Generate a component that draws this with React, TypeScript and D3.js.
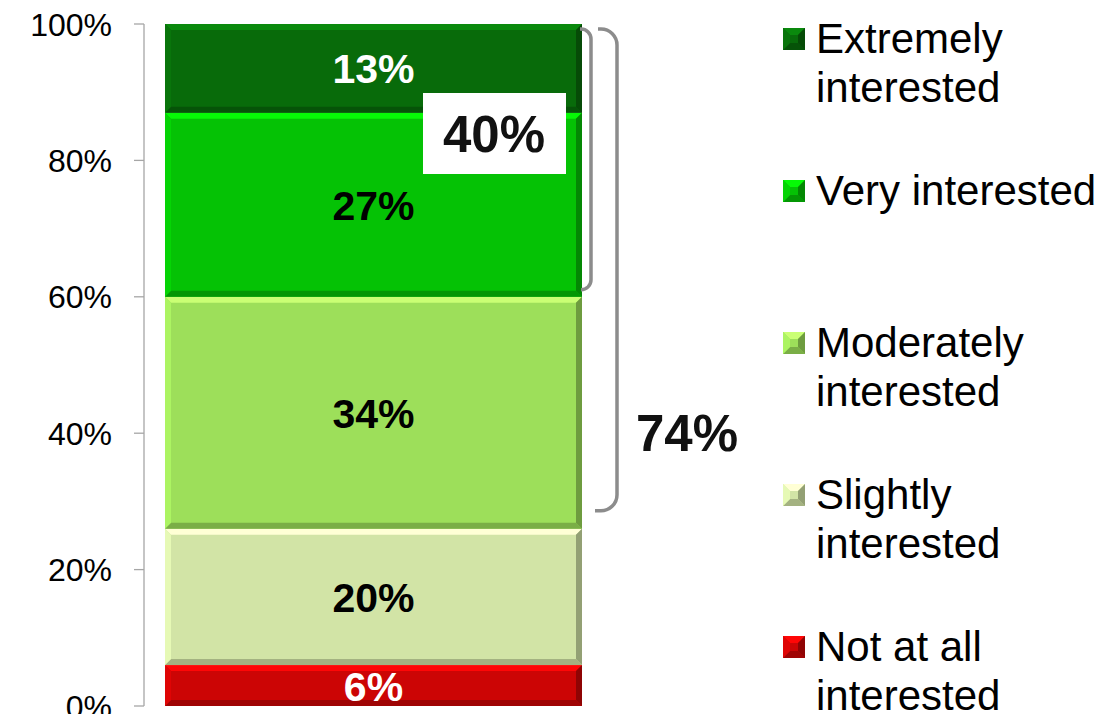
import React from "react";
import * as d3 from "d3";

const categories = ["Not at all interested", "Slightly interested", "Moderately interested", "Very interested", "Extremely interested"];
const values = [0.06, 0.20, 0.34, 0.27, 0.13];
const valueLabels = ["6%", "20%", "34%", "27%", "13%"];
const colors = ["#cc0505", "#d2e4a6", "#9ddf5a", "#05c205", "#086b0a"];
const labelColors = ["#ffffff", "#000000", "#000000", "#000000", "#ffffff"];
const tickValues = [0, 0.2, 0.4, 0.6, 0.8, 1.0];
const tickLabels = ["0%", "20%", "40%", "60%", "80%", "100%"];
const legendOrder = [4, 3, 2, 1, 0];
const legendLines = [["Not at all", "interested"], ["Slightly", "interested"], ["Moderately", "interested"], ["Very interested"], ["Extremely", "interested"]];
const brackets = [
  { from: 1.0, to: 0.6, label: "40%" },
  { from: 1.0, to: 0.26, label: "74%" },
];

const W = 1119, H = 714;
const FONT = "'Liberation Sans', Arial, sans-serif";

function Bevel({ x0, y0, x1, y1, color, b }: { x0: number; y0: number; x1: number; y1: number; color: string; b: number }) {
  const c = d3.color(color)!;
  const pts = (a: number[][]) => a.map((p) => p.join(",")).join(" ");
  return (
    <g>
      <rect x={x0} y={y0} width={x1 - x0} height={y1 - y0} fill={color} />
      <polygon points={pts([[x0, y0], [x1, y0], [x1 - b, y0 + b], [x0 + b, y0 + b]])} fill={c.brighter(0.7).formatHex()} />
      <polygon points={pts([[x0, y1], [x1, y1], [x1 - b, y1 - b], [x0 + b, y1 - b]])} fill={c.darker(0.7).formatHex()} />
      <polygon points={pts([[x0, y0], [x0 + b, y0 + b], [x0 + b, y1 - b], [x0, y1]])} fill={c.brighter(0.25).formatHex()} />
      <polygon points={pts([[x1, y0], [x1 - b, y0 + b], [x1 - b, y1 - b], [x1, y1]])} fill={c.darker(1.0).formatHex()} />
    </g>
  );
}

export default function App() {
  const y = d3.scaleLinear().domain([0, 1]).range([706, 24]);
  const x = d3.scaleBand().domain(["all"]).range([165, 582]).padding(0);
  const row: any = { key: "all" };
  categories.forEach((c, i) => (row[c] = values[i]));
  const series = d3.stack().keys(categories)([row]);
  const bx0 = x("all")!;
  const bx1 = bx0 + x.bandwidth();

  const bracketPath = (top: number, bot: number, xl: number, xv: number, r: number, xlb: number) => {
    const p = d3.path();
    p.moveTo(xl, top);
    p.lineTo(xv - r, top);
    p.arcTo(xv, top, xv, top + r, r);
    p.lineTo(xv, bot - r);
    p.arcTo(xv, bot, xv - r, bot, r);
    p.lineTo(xlb, bot);
    return p.toString();
  };

  const b0 = brackets[0];
  const b1 = brackets[1];

  return (
    <svg width={W} height={H} style={{ position: "absolute", left: 0, top: 0 }} fontFamily={FONT}>
      <rect width={W} height={H} fill="#fff" />
      {/* axis */}
      <line x1={144} x2={144} y1={y(0)} y2={y(1)} stroke="#a6a6a6" strokeWidth={1.3} />
      {tickValues.map((t, i) => (
        <g key={i}>
          <line x1={134} x2={144} y1={y(t)} y2={y(t)} stroke="#a6a6a6" strokeWidth={1.3} />
          <text x={112} y={y(t) + 11.5} textAnchor="end" fontSize={32} fill="#000">{tickLabels[i]}</text>
        </g>
      ))}
      {/* bars */}
      {series.map((s, i) => {
        const d = s[0];
        const y0 = y(d[1]);
        const y1 = y(d[0]);
        return (
          <g key={i}>
            <Bevel x0={bx0} y0={y0} x1={bx1} y1={y1} color={colors[i]} b={6} />
            <text x={(bx0 + bx1) / 2} y={(y0 + y1) / 2 + 15} textAnchor="middle" fontSize={41} fontWeight="bold" fill={labelColors[i]}>{valueLabels[i]}</text>
          </g>
        );
      })}
      {/* brackets */}
      <path d={bracketPath(y(b0.from) + 5, y(b0.to) - 7, 580, 591, 10, 581)} fill="none" stroke="#8c8c8c" strokeWidth={3.5} />
      <path d={bracketPath(y(b1.from) + 5, y(b1.to) - 18, 598, 617, 16, 595)} fill="none" stroke="#8c8c8c" strokeWidth={3.5} />
      <rect x={423} y={93} width={143} height={81} fill="#fff" />
      <text x={494} y={152} textAnchor="middle" fontSize={51} fontWeight="bold" fill="#111">{b0.label}</text>
      <text x={687} y={451} textAnchor="middle" fontSize={51} fontWeight="bold" fill="#111">{b1.label}</text>
      {/* legend */}
      {legendOrder.map((ci, k) => {
        const base = 53 + k * 152;
        return (
          <g key={ci}>
            <Bevel x0={783} y0={base - 25} x1={805} y1={base - 3} color={colors[ci]} b={7} />
            {legendLines[ci].map((ln, j) => (
              <text key={j} x={816} y={base + j * 49} fontSize={42} fill="#000">{ln}</text>
            ))}
          </g>
        );
      })}
    </svg>
  );
}
